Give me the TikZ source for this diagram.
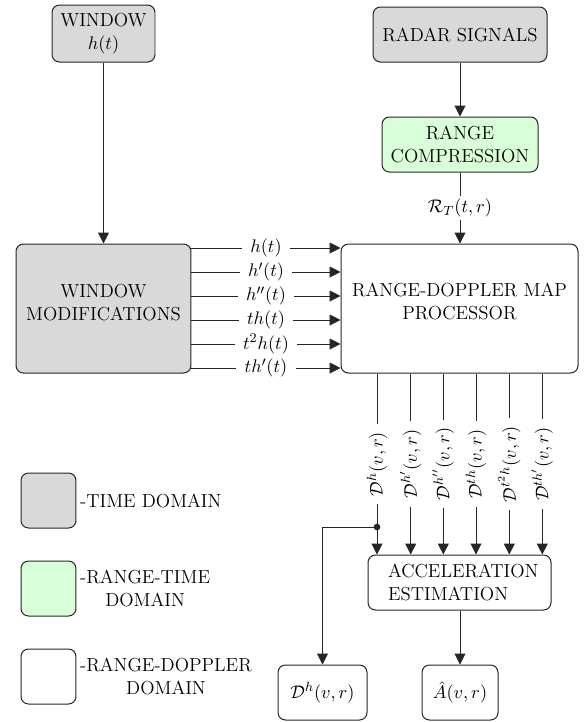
\documentclass[tikz,border=0pt]{standalone}
\usetikzlibrary{arrows.meta,calc}
\definecolor{tdgray}{RGB}{217,217,217}
\definecolor{rtgreen}{RGB}{217,255,217}

\tikzset{
  blk/.style={draw=black!85, line width=0.6pt, rounded corners=4.5pt, inner sep=0pt, align=center, minimum height=33pt},
  timedom/.style={blk, fill=tdgray},
  rangetime/.style={blk, fill=rtgreen},
  rdom/.style={blk, fill=white},
  link/.style={draw=black!85, line width=0.6pt, -{Triangle[length=6.5pt,width=6.5pt]}},
  lbl/.style={fill=white, inner xsep=5pt, inner ysep=2pt},
  legtext/.style={anchor=west, inner sep=2pt, align=center},
}

\begin{document}
\begin{tikzpicture}[x=0.6pt,y=-0.6pt, font=\fontsize{11.3pt}{13.6pt}\selectfont]
\useasboundingbox (0,0) rectangle (584,722);

% processing blocks
\node[timedom, minimum width=61.8pt, minimum height=34.2pt] (win) at (103.5,33.5) {WINDOW\\$h(t)$};
\node[timedom, minimum width=104.4pt] (radar) at (460,34.5) {RADAR SIGNALS};
\node[rangetime, minimum width=93.6pt] (rc) at (460,144.5) {RANGE\\COMPRESSION};
\node[timedom, minimum width=105pt, minimum height=77.4pt] (wm) at (103.5,308.5) {};
\node[align=center] (wmtext) at (103.5,302.5) {WINDOW\\MODIFICATIONS};
\node[rdom, minimum width=142.2pt, minimum height=77.4pt] (rdp) at (459.5,308.5) {};
\node[align=center] (rdptext) at (459.5,301.5) {RANGE-DOPPLER MAP\\PROCESSOR};
\node[rdom, minimum width=109.8pt, text width=109.8pt, align=left] (acc) at (459.5,582.5)
  {\hspace*{12pt}ACCELERATION\\\hspace*{12pt}ESTIMATION};
\node[rdom, minimum width=53.4pt] (dh) at (322.5,692.5) {$\mathcal{D}^{h}(v,r)$};
\node[rdom, minimum width=45.6pt] (ahat) at (460,692.5) {$\hat{A}(v,r)$};

% legend
\node[timedom, minimum width=33pt] (leg1) at (48.5,500.5) {};
\node[legtext] (leg1t) at (leg1.east) {-TIME DOMAIN};
\node[rangetime, minimum width=33pt] (leg2) at (48.5,588.5) {};
\node[legtext] (leg2t) at (leg2.east) {-RANGE-TIME\\DOMAIN};
\node[rdom, minimum width=33pt] (leg3) at (48.5,676.5) {};
\node[legtext] (leg3t) at (leg3.east) {-RANGE-DOPPLER\\DOMAIN};

% signal flow
\draw[link] (win) -- (wm);
\draw[link] (radar) -- (rc);
\draw[link] (rc.south) -- node[lbl] (rtl) {$\mathcal{R}_T(t,r)$} (rdp.north -| rc.south);

\foreach \yy/\txt/\nm in {248/{$h(t)$}/a, 272/{$h'(t)$}/b, 296/{$h''(t)$}/c,
                          320/{$th(t)$}/d, 344/{$t^2h(t)$}/e, 368/{$th'(t)$}/f}
  \draw[link] (wm.east |- 0,\yy) -- node[lbl] (w\nm) {\txt} (rdp.west |- 0,\yy);

\foreach \xx/\txt/\nm in {377/{$\mathcal{D}^{h}(v,r)$}/a, 410.7/{$\mathcal{D}^{h'}(v,r)$}/b,
                          443.3/{$\mathcal{D}^{h''}(v,r)$}/c, 476/{$\mathcal{D}^{th}(v,r)$}/d,
                          509.3/{$\mathcal{D}^{t^2h}(v,r)$}/e, 542.3/{$\mathcal{D}^{th'}(v,r)$}/f}
  \draw[link] (rdp.south -| \xx,0) -- node[lbl, rotate=90] (d\nm) {\txt} (acc.north -| \xx,0);

\coordinate (split) at (377,527);
\fill[black!85] (split) circle (2pt);
\draw[link] (split) -| (dh.north);
\draw[link] (acc.south -| ahat.north) -- (ahat.north);
\end{tikzpicture}
\end{document}
